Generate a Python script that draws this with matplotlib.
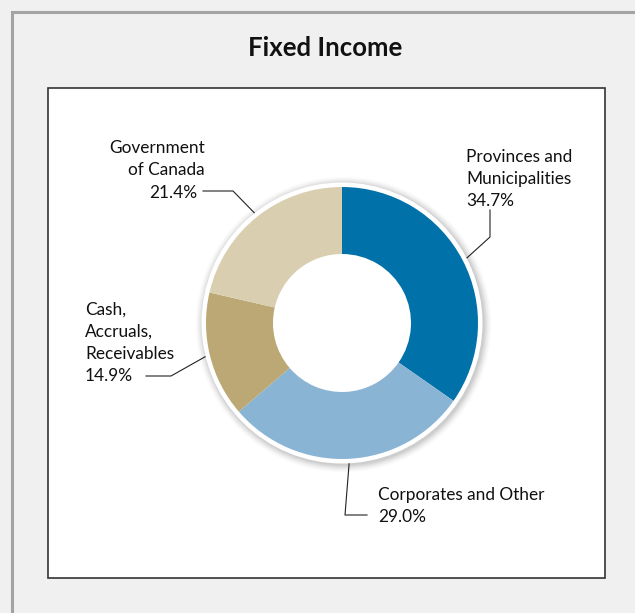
import numpy as np
import matplotlib.pyplot as plt
from matplotlib.patches import Rectangle, Circle

W, H = 635, 613

labels = ["Provinces and\nMunicipalities", "Corporates and Other",
          "Cash,\nAccruals,\nReceivables", "Government\nof Canada"]
shares = [34.7, 29.0, 14.9, 21.4]
colors = ["#0071a9", "#8ab4d4", "#bba874", "#d9ceaf"]

plt.rcParams['font.family'] = ['Lato', 'DejaVu Sans']


def py(y):
    # pixel rows counted from the top
    return H - y


fig = plt.figure(figsize=(W / 100, H / 100), dpi=100, facecolor="#f0f0f0")
ax = fig.add_axes([0, 0, 1, 1])
ax.set_xlim(0, W)
ax.set_ylim(0, H)
ax.set_aspect('equal')
ax.axis('off')

# outer frame (only left and top edges fall inside the image)
ax.plot([12, 12, W], [0, py(11.5), py(11.5)], color="#a3a3a3", lw=2.2,
        solid_capstyle='butt', solid_joinstyle='miter')

ax.text(325, py(56), "Fixed Income", ha='center', va='baseline',
        fontsize=18.5, fontweight='bold', color="#111111")

ax.add_patch(Rectangle((48, py(578)), 557, 490, facecolor='white',
                       edgecolor="#333333", lw=1.2))

cx, cy = 342, py(323)
r_out, r_in = 136, 69

# soft shadow and white rim behind the ring
for k in range(8):
    ax.add_patch(Circle((cx + 1.5, cy - 1.5), r_out + 4 + 8 - k,
                        facecolor='black', alpha=0.012 + 0.004 * k,
                        edgecolor='none', zorder=2))
ax.add_patch(Circle((cx, cy), r_out + 4.5, facecolor='white',
                    edgecolor='none', zorder=3))

wedges, _ = ax.pie(shares, colors=colors, startangle=90, counterclock=False,
                   center=(cx, cy), radius=r_out, frame=True,
                   wedgeprops=dict(width=r_out - r_in, edgecolor='none'))
for w in wedges:
    w.set_zorder(4)
ax.set_xlim(0, W)
ax.set_ylim(0, H)
ax.axis('off')

# leader lines: anchor on the ring at each slice's mid angle
elbows = [[(490, 237), (490, 210)],
          [(345, 515), (367, 515)],
          [(171, 376), (146, 376)],
          [(233, 191), (203, 191)]]
cum = np.cumsum([0] + shares[:-1])
for share, start, pts in zip(shares, cum, elbows):
    ang = np.deg2rad(90 - (start + share / 2) * 3.6)
    ax0 = cx + 141 * np.cos(ang)
    ay0 = cy + 141 * np.sin(ang)
    xs = [ax0] + [p[0] for p in pts]
    ys = [ay0] + [py(p[1]) for p in pts]
    ax.plot(xs, ys, color="#222222", lw=0.8, zorder=5)

# baseline alignment of multi-line text follows the last line
txt = dict(fontsize=12.4, color="#111111", linespacing=1.47, va='baseline')
ax.text(466, py(206), f"{labels[0]}\n{shares[0]:.1f}%", ha='left', **txt)
ax.text(378, py(522), f"{labels[1]}\n{shares[1]:.1f}%", ha='left', **txt)
ax.text(85, py(381), f"{labels[2]}\n{shares[2]:.1f}%", ha='left', **txt)
ax.text(205, py(175), labels[3], ha='right', multialignment='right', **txt)
ax.text(197, py(198), f"{shares[3]:.1f}%", ha='right', **txt)

fig.savefig("out.png", dpi=100, facecolor=fig.get_facecolor())
